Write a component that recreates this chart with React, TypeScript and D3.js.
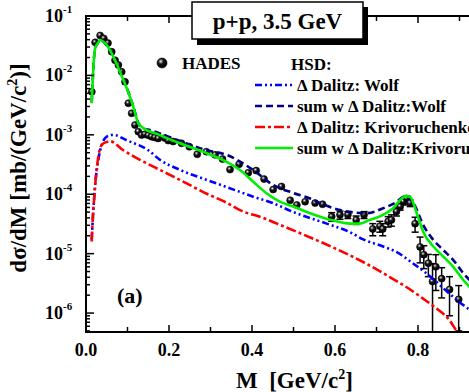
import React from 'react';
import * as d3 from 'd3';

const W = 469;
const H = 392;

// HADES p+p 3.5 GeV data
const hadesM = [0.014, 0.022, 0.034, 0.043, 0.053, 0.062, 0.070, 0.078, 0.086, 0.094, 0.102, 0.110, 0.118, 0.126, 0.134, 0.142, 0.150, 0.158, 0.166, 0.174, 0.190, 0.198, 0.210, 0.230, 0.249, 0.268, 0.290, 0.311, 0.329, 0.347, 0.369, 0.391, 0.410, 0.429, 0.451, 0.471, 0.492, 0.508, 0.528, 0.552, 0.570, 0.592, 0.612, 0.631, 0.651, 0.670, 0.691, 0.708, 0.715, 0.728, 0.736, 0.748, 0.757, 0.765, 0.773, 0.781, 0.793, 0.805, 0.814, 0.825, 0.835, 0.843, 0.857, 0.876, 0.898];
const hadesV = [5.3e-3, 0.036, 0.047, 0.042, 0.035, 0.025, 0.018, 0.015, 0.0115, 0.0078, 0.0034, 0.0023, 0.00146, 0.00113, 0.00099, 0.00102, 0.00098, 0.00093, 0.0009, 0.00087, 0.00088, 0.0008, 0.00077, 0.00072, 0.00063, 0.00047, 0.00052, 0.00046, 0.00039, 0.00026, 0.00032, 0.00023, 0.00025, 0.00018, 0.00012, 0.000135, 0.000079, 0.000066, 0.000075, 0.000071, 0.000068, 0.000042, 0.000045, 0.000045, 0.000037, 0.000045, 0.000026, 0.000029, 0.000026, 0.000035, 0.000037, 0.000051, 0.000062, 0.000075, 0.000085, 0.000071, 0.000032, 0.000013, 0.0000096, 0.0000069, 0.0000034, 0.000006, 0.0000038, 0.0000025, 0.0000017];
const hadesErr = [0, 0, 0, 0, 0, 0, 0, 0, 0, 0, 0, 0, 0, 0, 0, 0, 0, 0, 0, 0, 0, 0, 0, 0, 0, 0, 0, 0, 0, 0, 0, 0, 0, 0, 0, 0, 0, 0, 0, 0, 0, 7e-6, 7e-6, 6e-6, 6e-6, 6e-6, 6e-6, 6e-6, 6e-6, 7e-6, 8e-6, 8e-6, 8e-6, 9e-6, 9e-6, 9e-6, 9e-6, 6e-6, 4e-6, 2.8e-6, 3.4e-6, 3.6e-6, 2e-6, 1.6e-6, 1.2e-6];

// HSD: Delta Dalitz (Wolf)
const wolfM = [0.0137, 0.0177, 0.0217, 0.0297, 0.038, 0.05, 0.066, 0.098, 0.15, 0.178, 0.2265, 0.291, 0.339, 0.403, 0.45, 0.5, 0.58, 0.636, 0.668, 0.716, 0.75, 0.785, 0.83, 0.87, 0.91, 0.93];
const wolfV = [1.7e-5, 5.4e-5, 1.35e-4, 3.8e-4, 6.8e-4, 9.3e-4, 1.0e-3, 8.1e-4, 5.5e-4, 3.8e-4, 2.57e-4, 1.74e-4, 1.32e-4, 9.1e-5, 7.1e-5, 5.0e-5, 3.2e-5, 2.3e-5, 1.74e-5, 1.32e-5, 1.05e-5, 7.1e-6, 4.1e-6, 2.3e-6, 1.35e-6, 1.07e-6];

// HSD: sum with Delta Dalitz (Wolf)
const sumWolfM = [0.0137, 0.0217, 0.0296, 0.0337, 0.0417, 0.0499, 0.0658, 0.0819, 0.0981, 0.114, 0.126, 0.138, 0.154, 0.21, 0.291, 0.339, 0.403, 0.451, 0.4995, 0.54, 0.564, 0.612, 0.676, 0.716, 0.749, 0.765, 0.773, 0.789, 0.813, 0.837, 0.861, 0.885, 0.909, 0.93];
const sumWolfV = [3.5e-3, 0.028, 0.036, 0.0395, 0.037, 0.0326, 0.0208, 0.0116, 6.2e-3, 3.0e-3, 1.6e-3, 1.29e-3, 1.2e-3, 8.7e-4, 5.5e-4, 4.6e-4, 2.55e-4, 1.43e-4, 1.05e-4, 8.5e-5, 7.1e-5, 5.4e-5, 4.8e-5, 5.8e-5, 7.5e-5, 9.1e-5, 9.3e-5, 7.1e-5, 3.0e-5, 1.7e-5, 1.15e-5, 7.8e-6, 4.7e-6, 3.3e-6];

// HSD: Delta Dalitz (Krivoruchenko)
const krivM = [0.0137, 0.0161, 0.0193, 0.024, 0.0297, 0.038, 0.05, 0.058, 0.09, 0.13, 0.178, 0.2265, 0.291, 0.339, 0.371, 0.427, 0.47, 0.51, 0.59, 0.67, 0.733, 0.77, 0.81, 0.84, 0.877, 0.893, 0.91];
const krivV = [1.6e-5, 3.7e-5, 7.9e-5, 2.0e-4, 4.3e-4, 6.8e-4, 7.6e-4, 7.8e-4, 5.5e-4, 3.8e-4, 2.57e-4, 1.74e-4, 1.02e-4, 7.2e-5, 5.4e-5, 4.0e-5, 3.0e-5, 2.3e-5, 1.32e-5, 7.1e-6, 4.0e-6, 2.8e-6, 1.8e-6, 1.26e-6, 7.4e-7, 5.0e-7, 3.5e-7];

// HSD: sum with Delta Dalitz (Krivoruchenko)
const sumKrivM = [0.0137, 0.0217, 0.0296, 0.0337, 0.0417, 0.0499, 0.0658, 0.0819, 0.0981, 0.114, 0.126, 0.134, 0.178, 0.2265, 0.291, 0.339, 0.371, 0.403, 0.435, 0.467, 0.4995, 0.54, 0.596, 0.636, 0.66, 0.684, 0.716, 0.74, 0.757, 0.771, 0.781, 0.797, 0.813, 0.837, 0.861, 0.885, 0.909, 0.93];
const sumKrivV = [3.4e-3, 0.028, 0.036, 0.0394, 0.0369, 0.0325, 0.0207, 0.0115, 6.1e-3, 2.97e-3, 1.56e-3, 1.37e-3, 9.9e-4, 7.2e-4, 4.9e-4, 3.5e-4, 2.55e-4, 1.62e-4, 1.04e-4, 7.5e-5, 6.2e-5, 4.8e-5, 3.6e-5, 3.2e-5, 3.2e-5, 3.7e-5, 4.5e-5, 5.8e-5, 8.0e-5, 9.3e-5, 9.1e-5, 4.8e-5, 2.3e-5, 1.32e-5, 8.9e-6, 6.0e-6, 3.6e-6, 2.5e-6];

const xTicks = [0, 0.1, 0.2, 0.3, 0.4, 0.5, 0.6, 0.7, 0.8, 0.9, 1.0];
const xLabels = [0, 0.2, 0.4, 0.6, 0.8];
const yDecades = [-1, -2, -3, -4, -5, -6];

const series = [
  { label: '\u0394 Dalitz: Wolf', m: wolfM, v: wolfV, color: '#0000ff', dash: '7,3,2,3,2,3' },
  { label: 'sum w \u0394 Dalitz:Wolf', m: sumWolfM, v: sumWolfV, color: '#000080', dash: '7,4' },
  { label: '\u0394 Dalitz: Krivoruchenko', m: krivM, v: krivV, color: '#ff0000', dash: '10,3,3,3' },
  { label: 'sum w \u0394 Dalitz:Krivoruchenko', m: sumKrivM, v: sumKrivV, color: '#00ee00', dash: '' },
];

const font = '"Liberation Serif", "Times New Roman", serif';

export default function App() {
  const left = 86, top = 16, bottom = 332, right = 501;
  const x = d3.scaleLinear().domain([0, 1.0]).range([left, right]);
  const y = d3.scaleLog().domain([4.8e-7, 0.1]).range([bottom, top]);

  const line = d3.line<[number, number]>()
    .x(d => x(d[0]))
    .y(d => y(d[1]))
    .curve(d3.curveMonotoneX);

  const minorY: number[] = [];
  yDecades.forEach(e => {
    for (let k = 2; k <= 9; k++) {
      const v = k * Math.pow(10, e - 1);
      if (v >= 4.8e-7 && v <= 0.1) minorY.push(v);
    }
  });

  // blue, red, navy, green on top
  const drawOrder = [0, 2, 1, 3];

  return (
    <svg width={W} height={H} style={{ position: 'fixed', left: 0, top: 0, background: '#fff' }}
      fontFamily={font} fontWeight="bold">
      <defs>
        <radialGradient id="ball" cx="0.38" cy="0.34" r="0.62">
          <stop offset="0" stopColor="#ffffff" />
          <stop offset="0.18" stopColor="#8a8a8a" />
          <stop offset="0.45" stopColor="#151515" />
          <stop offset="1" stopColor="#000" />
        </radialGradient>
        <clipPath id="plot">
          <rect x={left} y={top} width={right - left} height={bottom - top} />
        </clipPath>
      </defs>

      {/* HADES points */}
      <g clipPath="url(#plot)">
        {hadesM.map((m, i) => {
          const e = hadesErr[i];
          if (!e) return null;
          const cx = x(m);
          const hi = y(hadesV[i] + e);
          const lo = hadesV[i] - e > 4.8e-7 ? y(hadesV[i] - e) : bottom + 5;
          return (
            <g key={'e' + i} stroke="#000" strokeWidth={1.5}>
              <line x1={cx} x2={cx} y1={hi} y2={lo} />
              <line x1={cx - 3.5} x2={cx + 3.5} y1={hi} y2={hi} />
              {lo < bottom && <line x1={cx - 3.5} x2={cx + 3.5} y1={lo} y2={lo} />}
            </g>
          );
        })}
        {hadesM.map((m, i) => (
          <circle key={'p' + i} cx={x(m)} cy={y(hadesV[i])} r={3.5} fill="url(#ball)" stroke="#000" strokeWidth={0.6} />
        ))}
      </g>

      {/* HSD curves */}
      <g clipPath="url(#plot)" fill="none">
        {drawOrder.map(k => {
          const s = series[k];
          const pts = s.m.map((m, i) => [m, s.v[i]] as [number, number]);
          return (
            <path key={k} d={line(pts) || ''} stroke={s.color} strokeWidth={2.6}
              strokeDasharray={s.dash || undefined} />
          );
        })}
      </g>

      {/* frame */}
      <g stroke="#000" strokeWidth={2} fill="none">
        <line x1={left} x2={W + 5} y1={bottom} y2={bottom} />
        <line x1={left} x2={W + 5} y1={top} y2={top} />
        <line x1={left} x2={left} y1={top - 1} y2={bottom + 1} />
      </g>

      {/* x ticks */}
      <g stroke="#000" strokeWidth={1.5}>
        {xTicks.map((t, i) => {
          const len = i % 2 === 0 ? 7 : 5;
          return (
            <g key={t}>
              <line x1={x(t)} x2={x(t)} y1={bottom} y2={bottom - len} />
              <line x1={x(t)} x2={x(t)} y1={top} y2={top + len} />
            </g>
          );
        })}
      </g>
      <g fontSize={18} textAnchor="middle">
        {xLabels.map(t => (
          <text key={t} x={x(t)} y={356}>{t.toFixed(1)}</text>
        ))}
      </g>

      {/* y ticks */}
      <g stroke="#000" strokeWidth={1.5}>
        {yDecades.map(e => (
          <line key={e} x1={left} x2={left + 8} y1={y(Math.pow(10, e))} y2={y(Math.pow(10, e))} />
        ))}
        {minorY.map((v, i) => (
          <line key={i} x1={left} x2={left + 4} y1={y(v)} y2={y(v)} />
        ))}
      </g>
      <g>
        {yDecades.map(e => (
          <text key={e} x={63} y={y(Math.pow(10, e)) + 6} fontSize={18} textAnchor="end">
            10
          </text>
        ))}
        {yDecades.map(e => (
          <text key={'s' + e} x={63} y={y(Math.pow(10, e)) - 3} fontSize={11}>
            {e}
          </text>
        ))}
      </g>

      {/* axis titles */}
      <text x={236} y={388} fontSize={23} style={{ whiteSpace: 'pre' }}>
        M  [GeV/c<tspan dy={-9} fontSize={14}>2</tspan><tspan dy={9}>]</tspan>
      </text>
      <text transform="translate(26,168) rotate(-90)" fontSize={23} textAnchor="middle">
        d{'\u03c3'}/dM [mb/(GeV/c<tspan dy={-9} fontSize={14}>2</tspan><tspan dy={9}>)]</tspan>
      </text>

      <text x={117} y={303} fontSize={22}>(a)</text>

      {/* title box */}
      <rect x={197} y={7} width={171} height={38} fill="#000" />
      <rect x={192} y={2} width={171} height={37} fill="#fff" stroke="#000" strokeWidth={1.5} />
      <text x={277.5} y={29} fontSize={23} textAnchor="middle">p+p, 3.5 GeV</text>

      {/* legend */}
      <circle cx={162} cy={63} r={5} fill="url(#ball)" stroke="#000" strokeWidth={0.6} />
      <text x={182} y={69} fontSize={17}>HADES</text>
      <text x={291} y={70} fontSize={17}>HSD:</text>
      {series.map((s, i) => {
        const ly = 85 + i * 21;
        return (
          <g key={s.label}>
            <line x1={255} x2={293} y1={ly} y2={ly} stroke={s.color} strokeWidth={2.6}
              strokeDasharray={s.dash || undefined} />
            <text x={297} y={ly + 6} fontSize={17}>{s.label}</text>
          </g>
        );
      })}
    </svg>
  );
}
